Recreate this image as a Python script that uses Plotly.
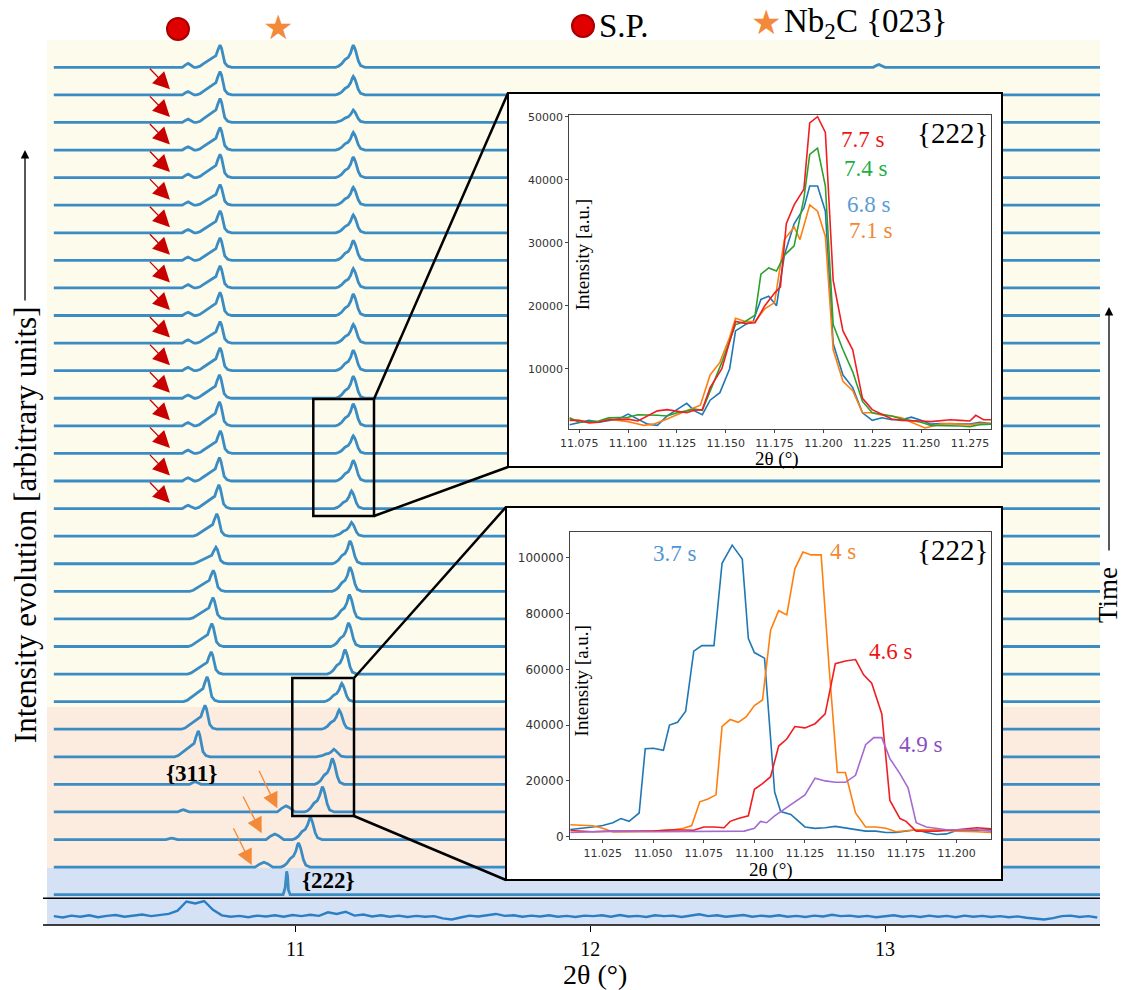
import plotly.graph_objects as go

# ------------------------------------------------------------------ data
# Main waterfall: rows k = 0 (top) ... 30 (bottom); heights in "row" units
P1_POS = [10.744, 10.744, 10.744, 10.744, 10.744, 10.744, 10.744, 10.744, 10.744, 10.744,
          10.744, 10.744, 10.742, 10.742, 10.745, 10.742, 10.740, 10.733, 10.730, 10.721,
          10.720, 10.716, 10.714, 10.700, 10.693, 10.670, 10.660, 10.660, 10.660, 10.660, 10.660]
P1_H = [0.81, 0.85, 0.87, 0.82, 0.85, 0.75, 0.80, 0.82, 0.80, 0.84,
        0.78, 0.83, 0.85, 0.87, 0.82, 0.85, 0.86, 0.81, 0.60, 0.76,
        0.77, 0.83, 0.81, 0.90, 0.87, 0.94, 0.0, 0.0, 0.0, 0.0, 0.0]
P2_POS = [11.196, 11.196, 11.196, 11.196, 11.196, 11.196, 11.196, 11.196, 11.196, 11.196,
          11.196, 11.196, 11.196, 11.196, 11.196, 11.196, 11.190, 11.190, 11.185, 11.185,
          11.183, 11.180, 11.168, 11.157, 11.148, 11.130, 11.125, 11.091, 11.050, 11.010, 10.970]
P2_H = [0.80, 0.67, 0.45, 0.64, 0.75, 0.65, 0.65, 0.72, 0.70, 0.78,
        0.68, 0.74, 0.80, 0.80, 0.64, 0.75, 0.64, 0.50, 0.83, 0.88,
        0.88, 0.86, 0.89, 0.66, 0.70, 0.27, 0.94, 0.92, 0.82, 0.88, 0.85]
NARROW_ROWS = [30]
SP_POS = [10.636, 10.636, 10.636, 10.636, 10.636, 10.636, 10.636, 10.636, 10.636, 10.636,
          10.636, 10.636, 10.636, 10.636, 10.636, 10.636, 10.636, 10.64, 10.64, 10.64,
          10.64, 10.64, 10.64, 10.64, 10.64, 10.64, 10.660, 10.620, 10.580, 10.60, 10.60]
SP_H = [0.14, 0.12, 0.12, 0.12, 0.13, 0.12, 0.12, 0.12, 0.12, 0.12,
        0.12, 0.12, 0.12, 0.12, 0.12, 0.12, 0.12, 0.0, 0.0, 0.0,
        0.0, 0.0, 0.0, 0.0, 0.0, 0.0, 0.10, 0.08, 0.05, 0.0, 0.0]
NB_ROWS = [27, 28, 29]
NB_POS = [10.968, 10.930, 10.893]
NB_H = [0.22, 0.20, 0.18]
EXTRA_ROWS = [0]
EXTRA_POS = [12.98]
EXTRA_H = [0.10]
ARROW_ROWS = [1, 2, 3, 4, 5, 6, 7, 8, 9, 10, 11, 12, 13, 14, 15, 16]

# peak profile templates (offset in degrees, relative height)
PK_DX = [-0.080, -0.068, -0.057, -0.045, -0.034, -0.023, -0.014, -0.008, -0.003, 0.0,
         0.005, 0.010, 0.016, 0.026, 0.040]
PK_REL = [0.0, 0.05, 0.15, 0.25, 0.36, 0.45, 0.52, 0.75, 0.95, 1.0,
          0.85, 0.5, 0.2, 0.05, 0.0]
PK2_DX = [-0.060, -0.050, -0.040, -0.028, -0.017, -0.009, -0.003, 0.0, 0.004, 0.008,
          0.017, 0.025, 0.040]
PK2_REL = [0.0, 0.05, 0.15, 0.35, 0.45, 0.65, 0.92, 1.0, 0.9, 0.75,
           0.3, 0.08, 0.0]
NARROW_DX = [-0.012, -0.005, -0.002, 0.0, 0.003, 0.006, 0.012]
NARROW_REL = [0.0, 0.3, 0.9, 1.0, 0.8, 0.2, 0.0]
BUMP_DX = [-0.02, -0.008, 0.0, 0.008, 0.02]
BUMP_REL = [0.0, 0.7, 1.0, 0.6, 0.0]
WIDE_DX = [-0.03, -0.015, 0.0, 0.012, 0.03]
WIDE_REL = [0.0, 0.6, 1.0, 0.7, 0.0]

# bottom reference pattern (sampled every 0.03 deg from 10.18)
REF_START, REF_STEP = 10.18, 0.03
REF_Y = [0.02, -0.03, 0.04, 0.00, 0.05, -0.02, 0.03, 0.06, 0.00, 0.04,
         0.08, 0.02, 0.07, 0.10, 0.22, 0.55, 0.48, 0.57, 0.25, 0.05,
         0.00, 0.03, -0.02, 0.04, 0.01, 0.05, 0.00, 0.06, 0.02, 0.07,
         0.03, 0.16, 0.10, 0.18, 0.04, 0.08, 0.01, 0.05, 0.00, 0.04,
         -0.01, 0.03, 0.00, 0.02, -0.06, -0.10, -0.03, 0.04, 0.01, 0.06,
         0.10, 0.03, 0.05, 0.00, 0.04, 0.01, 0.05, 0.00, 0.03, -0.01,
         0.04, 0.02, 0.05, 0.00, 0.06, 0.01, 0.03, -0.01, 0.05, 0.02,
         0.04, -0.01, 0.03, 0.09, 0.02, 0.05, 0.00, 0.03, 0.06, 0.00,
         0.04, 0.01, 0.05, 0.00, 0.03, -0.01, 0.04, 0.01, 0.07, 0.02,
         0.04, 0.00, 0.03, -0.02, 0.02, 0.05, 0.00, 0.03, -0.01, 0.04,
         0.00, 0.03, -0.02, 0.04, 0.00, 0.03, -0.01, 0.02, -0.02, 0.01,
         -0.04, -0.08, -0.10, -0.05, 0.02, 0.04, -0.01, 0.02, -0.03]

# inset 1 ({222}, late times)
I1_B_X = [11.070, 11.075, 11.080, 11.085, 11.090, 11.095, 11.100, 11.105, 11.110, 11.115,
          11.120, 11.125, 11.130, 11.134, 11.138, 11.142, 11.147, 11.152, 11.155, 11.160,
          11.164, 11.168, 11.172, 11.176, 11.180, 11.185, 11.190, 11.193, 11.197, 11.201,
          11.205, 11.210, 11.215, 11.220, 11.225, 11.230, 11.235, 11.240, 11.245, 11.250,
          11.255, 11.260, 11.265, 11.270, 11.275, 11.280, 11.286]
I1_B_Y = [1100, 1500, 1800, 1500, 1800, 2000, 2800, 2000, 1200, 1000,
          2500, 3500, 4500, 3300, 2700, 5000, 6200, 10000, 16000, 17000,
          17500, 21000, 21500, 20000, 28000, 33000, 35500, 39000, 39000, 35000,
          14000, 9000, 7000, 3000, 1800, 2200, 1900, 1900, 2300, 1800,
          1200, 1300, 1300, 1200, 1200, 1500, 1300]
I1_O_X = [11.070, 11.075, 11.080, 11.085, 11.090, 11.095, 11.100, 11.104, 11.108, 11.113,
          11.120, 11.125, 11.130, 11.137, 11.142, 11.147, 11.152, 11.155, 11.160, 11.165,
          11.170, 11.175, 11.180, 11.185, 11.188, 11.193, 11.197, 11.201, 11.205, 11.210,
          11.215, 11.220, 11.225, 11.230, 11.235, 11.240, 11.245, 11.252, 11.260, 11.265,
          11.270, 11.275, 11.280, 11.286]
I1_O_Y = [2000, 1800, 1500, 1600, 2000, 1800, 1600, 1300, 1000, 1200,
          2000, 2700, 3300, 4200, 9000, 11000, 15000, 18000, 17500, 17500,
          19500, 20500, 30500, 32500, 30500, 36000, 35000, 31000, 13000, 8000,
          6500, 3000, 3000, 2600, 2500, 2200, 1500, 600, 1200, 1300,
          1200, 1100, 1300, 1300]
I1_G_X = [11.070, 11.075, 11.080, 11.085, 11.090, 11.095, 11.100, 11.105, 11.110, 11.115,
          11.120, 11.125, 11.130, 11.134, 11.138, 11.142, 11.148, 11.155, 11.160, 11.165,
          11.168, 11.172, 11.176, 11.180, 11.185, 11.190, 11.193, 11.197, 11.201, 11.205,
          11.210, 11.215, 11.220, 11.225, 11.230, 11.235, 11.240, 11.245, 11.250, 11.255,
          11.260, 11.265, 11.270, 11.275, 11.280, 11.286]
I1_G_Y = [2200, 1500, 1600, 1700, 2200, 2200, 2300, 2700, 2700, 2600,
          2500, 3000, 3300, 3600, 3400, 6500, 11000, 17000, 17500, 18500,
          25000, 26000, 25500, 28000, 29500, 37000, 44000, 45000, 39000, 17000,
          13000, 9500, 4800, 3000, 2800, 2500, 2000, 1700, 1500, 1000,
          1000, 1000, 900, 800, 1100, 1200]
I1_R_X = [11.070, 11.075, 11.080, 11.085, 11.090, 11.095, 11.100, 11.105, 11.110, 11.115,
          11.120, 11.125, 11.130, 11.134, 11.138, 11.142, 11.148, 11.155, 11.160, 11.165,
          11.170, 11.175, 11.178, 11.181, 11.185, 11.190, 11.193, 11.197, 11.201, 11.205,
          11.210, 11.215, 11.220, 11.225, 11.230, 11.235, 11.240, 11.245, 11.250, 11.255,
          11.260, 11.265, 11.270, 11.275, 11.278, 11.282, 11.286]
I1_R_Y = [1800, 1800, 1400, 1500, 1900, 2000, 2000, 1700, 2500, 3300,
          3500, 3200, 3000, 3400, 3500, 7000, 10000, 17500, 17200, 17300,
          20000, 22000, 23000, 33000, 36000, 38500, 49000, 50000, 47500, 24000,
          16000, 13000, 5300, 3500, 2800, 2000, 1800, 1800, 1700, 1600,
          1800, 1900, 1800, 1700, 2600, 1900, 1900]
I1_LABELS = ["6.8 s", "7.1 s", "7.4 s", "7.7 s"]

# inset 2 ({222}, early times)
I2_B_X = [11.009, 11.015, 11.020, 11.025, 11.030, 11.034, 11.038, 11.043, 11.046, 11.050,
          11.055, 11.058, 11.062, 11.066, 11.070, 11.074, 11.080, 11.084, 11.089, 11.094,
          11.097, 11.100, 11.105, 11.110, 11.113, 11.118, 11.125, 11.130, 11.135, 11.140,
          11.145, 11.150, 11.155, 11.160, 11.165, 11.170, 11.175, 11.180, 11.185, 11.190,
          11.195, 11.200, 11.205, 11.210, 11.217]
I2_B_Y = [2600, 3000, 3500, 4000, 5000, 6500, 5500, 8500, 31500, 31700,
          31000, 40000, 41000, 45000, 66500, 68500, 68500, 98000, 104500, 99500,
          71000, 66000, 64000, 16000, 9000, 8000, 3500, 3000, 3200, 3700,
          3200, 2500, 2000, 2000, 1500, 1500, 2000, 2500, 1500, 800,
          1000, 2200, 2200, 2200, 2500]
I2_O_X = [11.009, 11.020, 11.025, 11.030, 11.040, 11.050, 11.060, 11.065, 11.069, 11.073,
          11.077, 11.081, 11.084, 11.088, 11.092, 11.096, 11.100, 11.104, 11.108, 11.112,
          11.116, 11.120, 11.124, 11.128, 11.133, 11.137, 11.141, 11.145, 11.150, 11.155,
          11.160, 11.165, 11.170, 11.175, 11.180, 11.190, 11.200, 11.210, 11.217]
I2_O_Y = [4300, 3900, 3000, 1700, 1800, 2000, 2500, 3000, 4000, 12500,
          13500, 15000, 39500, 42000, 41000, 43000, 47000, 49000, 74000, 81000,
          79500, 96000, 102000, 101000, 101000, 60000, 23000, 23000, 8500, 3500,
          3500, 3000, 1800, 2200, 2500, 2500, 2000, 1800, 1500]
I2_R_X = [11.009, 11.020, 11.030, 11.050, 11.060, 11.070, 11.075, 11.080, 11.085, 11.088,
          11.092, 11.097, 11.100, 11.104, 11.108, 11.112, 11.116, 11.120, 11.125, 11.130,
          11.135, 11.140, 11.145, 11.150, 11.154, 11.158, 11.163, 11.167, 11.172, 11.175,
          11.180, 11.190, 11.200, 11.210, 11.217]
I2_R_Y = [2200, 1800, 2000, 2000, 2500, 2300, 3500, 3500, 3200, 5500,
          6500, 7500, 17000, 19000, 21500, 32500, 35000, 39500, 39000, 40500,
          44000, 62000, 63000, 63500, 58000, 55000, 44000, 13000, 6500, 5500,
          2000, 2000, 2500, 3200, 2800]
I2_P_X = [11.009, 11.030, 11.050, 11.070, 11.090, 11.095, 11.100, 11.103, 11.106, 11.110,
          11.115, 11.120, 11.125, 11.130, 11.135, 11.140, 11.145, 11.150, 11.155, 11.159,
          11.163, 11.167, 11.172, 11.176, 11.180, 11.185, 11.190, 11.195, 11.200, 11.210,
          11.217]
I2_P_Y = [1500, 2000, 1800, 1800, 1800, 2000, 3000, 5500, 5000, 7500,
          10000, 12500, 15000, 21000, 20000, 19500, 19500, 22000, 33000, 35500,
          35500, 28000, 22500, 17500, 5000, 3500, 3000, 2500, 2500, 2500,
          2000]
I2_LABELS = ["3.7 s", "4 s", "4.6 s", "4.9 s"]

MAIN_TICKS = [11, 12, 13]
I1_XTICKS = [11.075, 11.100, 11.125, 11.150, 11.175, 11.200, 11.225, 11.250, 11.275]
I1_YTICKS = [10000, 20000, 30000, 40000, 50000]
I2_XTICKS = [11.025, 11.050, 11.075, 11.100, 11.125, 11.150, 11.175, 11.200]
I2_YTICKS = [0, 20000, 40000, 60000, 80000, 100000]

# ------------------------------------------------------------------ layout helpers
W, H = 1126, 990
L, R, T, B = 45, 1100, 40, 925
ROW_PX = 27.58
TOP_BASE_PX = 67.3
NROWS = len(P1_H)


def pxx(x):
    return (x - L) / (R - L)


def pxy(y):
    return (B - y) / (B - T)


def off(k):
    return (NROWS - 1) - k


def row_of_px(y):
    return (TOP_BASE_PX + (NROWS - 1) * ROW_PX - y) / ROW_PX


def deg_of_px(x):
    return 11 + (x - 295.5) / 294.75


SERIF = "Liberation Serif"
SANS = "DejaVu Sans"
LINE = "#3a8cc3"

fig = go.Figure()

# ------------------------------------------------------------------ main waterfall
X_START, X_END = 10.18, 13.76
for k in range(NROWS):
    feats = []
    if SP_H[k] > 0:
        feats.append((SP_POS[k], SP_H[k], BUMP_DX, BUMP_REL))
    if P1_H[k] > 0:
        feats.append((P1_POS[k], P1_H[k], PK_DX, PK_REL))
    if k in NB_ROWS:
        i = NB_ROWS.index(k)
        feats.append((NB_POS[i], NB_H[i], WIDE_DX, WIDE_REL))
    if P2_H[k] > 0:
        if k in NARROW_ROWS:
            feats.append((P2_POS[k], P2_H[k], NARROW_DX, NARROW_REL))
        else:
            feats.append((P2_POS[k], P2_H[k], PK2_DX, PK2_REL))
    if k in EXTRA_ROWS:
        i = EXTRA_ROWS.index(k)
        feats.append((EXTRA_POS[i], EXTRA_H[i], BUMP_DX, BUMP_REL))
    feats.sort(key=lambda f: f[0])
    xs, ys = [X_START], [0.0]
    for pos, h, dxs, rels in feats:
        for d, r in zip(dxs, rels):
            xs.append(pos + d)
            ys.append(h * r)
    xs.append(X_END)
    ys.append(0.0)
    fig.add_trace(go.Scatter(x=xs, y=[v + off(k) for v in ys], mode="lines",
                             line=dict(color=LINE, width=2.8), hoverinfo="skip",
                             showlegend=False, xaxis="x", yaxis="y"))

# bottom reference pattern
ref_off = row_of_px(916.7)
ref_x = [REF_START + REF_STEP * i for i in range(len(REF_Y))]
fig.add_trace(go.Scatter(x=ref_x, y=[v + ref_off for v in REF_Y], mode="lines",
                         line=dict(color="#2a7fc4", width=2.4), showlegend=False,
                         hoverinfo="skip", xaxis="x", yaxis="y"))

# ------------------------------------------------------------------ inset white panels + data
def white_panel(xa, ya):
    fig.add_trace(go.Scatter(x=[0, 1, 1, 0, 0], y=[0, 0, 1, 1, 0], mode="lines",
                             fill="toself", fillcolor="white", line=dict(width=0),
                             showlegend=False, hoverinfo="skip", xaxis=xa, yaxis=ya))


white_panel("x2", "y2")
for xs, ys, c in [(I1_B_X, I1_B_Y, "#1f77b4"), (I1_O_X, I1_O_Y, "#ff7f0e"),
                  (I1_G_X, I1_G_Y, "#2ca02c"), (I1_R_X, I1_R_Y, "#f01e23")]:
    fig.add_trace(go.Scatter(x=xs, y=ys, mode="lines", line=dict(color=c, width=1.6),
                             showlegend=False, xaxis="x3", yaxis="y3"))
white_panel("x4", "y4")
for xs, ys, c in [(I2_B_X, I2_B_Y, "#1f77b4"), (I2_O_X, I2_O_Y, "#ff7f0e"),
                  (I2_R_X, I2_R_Y, "#f01e23"), (I2_P_X, I2_P_Y, "#a46ad2")]:
    fig.add_trace(go.Scatter(x=xs, y=ys, mode="lines", line=dict(color=c, width=1.6),
                             showlegend=False, xaxis="x5", yaxis="y5"))

# ------------------------------------------------------------------ axes
hidden = dict(visible=False, range=[0, 1], fixedrange=True)
inset_ax = dict(showline=True, mirror=True, linecolor="#444", linewidth=1,
                ticks="outside", ticklen=3, tickwidth=1, tickcolor="#444",
                showgrid=False, zeroline=False,
                tickfont=dict(family=SANS, size=11, color="#333"))

fig.update_layout(
    width=W, height=H, autosize=False,
    margin=dict(l=L, r=W - R, t=T, b=H - B, pad=0),
    paper_bgcolor="white", plot_bgcolor="rgba(0,0,0,0)",
    xaxis=dict(domain=[0, 1], range=[deg_of_px(L), deg_of_px(R)], tickvals=MAIN_TICKS,
               ticktext=[str(t) for t in MAIN_TICKS], ticks="outside", ticklen=6,
               tickwidth=1, tickcolor="black", showline=False, showgrid=False,
               zeroline=False, tickfont=dict(family=SERIF, size=20, color="black")),
    yaxis=dict(domain=[0, 1], range=[row_of_px(B), row_of_px(T)], visible=False),
    xaxis2=dict(domain=[pxx(508), pxx(1002)], anchor="y2", **hidden),
    yaxis2=dict(domain=[pxy(467), pxy(93)], anchor="x2", **hidden),
    xaxis3=dict(domain=[pxx(569.3), pxx(991)], anchor="y3", range=[11.0699, 11.2858],
                tickvals=I1_XTICKS, tickformat=".3f", **inset_ax),
    yaxis3=dict(domain=[pxy(429.3), pxy(115)], anchor="x3", range=[380, 50270],
                tickvals=I1_YTICKS, tickformat="d", **inset_ax),
    xaxis4=dict(domain=[pxx(506), pxx(1002)], anchor="y4", **hidden),
    yaxis4=dict(domain=[pxy(880), pxy(507)], anchor="x4", **hidden),
    xaxis5=dict(domain=[pxx(570), pxx(991)], anchor="y5", range=[11.0088, 11.217],
                tickvals=I2_XTICKS, tickformat=".3f", **inset_ax),
    yaxis5=dict(domain=[pxy(839.3), pxy(532.3)], anchor="x5", range=[-930, 109100],
                tickvals=I2_YTICKS, tickformat="d", **inset_ax),
)
fig.layout.yaxis5.tickfont.size = 12

# ------------------------------------------------------------------ shapes
shapes = []


def rect(x0, y0, x1, y1, fill=None, line=None, layer="above"):
    d = dict(type="rect", xref="paper", yref="paper", x0=pxx(x0), x1=pxx(x1),
             y0=pxy(y1), y1=pxy(y0), layer=layer)
    d["fillcolor"] = fill if fill else "rgba(0,0,0,0)"
    d["line"] = line if line else dict(width=0)
    shapes.append(d)


def seg(x0, y0, x1, y1, color="black", width=2.5):
    shapes.append(dict(type="line", xref="paper", yref="paper", x0=pxx(x0), y0=pxy(y0),
                       x1=pxx(x1), y1=pxy(y1), line=dict(color=color, width=width),
                       layer="above"))


def dot(cx, cy, r):
    shapes.append(dict(type="circle", xref="paper", yref="paper",
                       x0=pxx(cx - r), x1=pxx(cx + r), y0=pxy(cy + r), y1=pxy(cy - r),
                       fillcolor="#e00000", line=dict(color="#a80000", width=2),
                       layer="above"))


rect(47, 40, 1100, 707, fill="#fdfcec", layer="below")
rect(47, 707, 1100, 868, fill="#fcebdf", layer="below")
rect(47, 868, 1100, 925, fill="#d5e1f4", layer="below")
seg(43, 898.3, 1100, 898.3, width=1.5)
seg(43, 925, 1100, 925, width=1.5)

# zoom boxes and connectors
rect(313.3, 399, 374, 516, line=dict(color="black", width=2.5))
seg(374, 399, 508, 93)
seg(374, 516, 508, 467)
rect(292.3, 678, 354, 816, line=dict(color="black", width=2.5))
seg(354, 678, 506, 507)
seg(354, 816, 506, 880)
# inset frames
rect(508, 93, 1002, 467, line=dict(color="black", width=2))
rect(506, 507, 1002, 880, line=dict(color="black", width=2))

# S.P. markers (top row + legend)
dot(178, 29, 11)
dot(583, 26, 11)

fig.update_layout(shapes=shapes)

# ------------------------------------------------------------------ annotations
ann = []


def txt(x, y, s, size, color="black", angle=0, xanchor="center", family=SERIF):
    ann.append(dict(x=pxx(x), y=pxy(y), xref="paper", yref="paper", text=s,
                    showarrow=False, textangle=angle, xanchor=xanchor, yanchor="middle",
                    borderpad=0, font=dict(family=family, size=size, color=color)))


def parrow(x, y_tip, y_tail, size=1.3):
    ann.append(dict(x=pxx(x), y=pxy(y_tip), xref="paper", yref="paper", text="",
                    showarrow=True, ax=0, ay=y_tail - y_tip, axref="pixel", ayref="pixel",
                    arrowhead=2, arrowsize=size, arrowwidth=1.3, arrowcolor="black",
                    standoff=0))


# Nb2C star markers
txt(278, 27, "★", 34, color="#f28a3a", family="DejaVu Sans")
txt(766, 22, "★", 34, color="#f28a3a", family="DejaVu Sans")

# main axis title, side titles
txt(595, 974, "2θ (°)", 28)
txt(25, 525, "Intensity evolution [arbitrary units]", 31, angle=-90)
parrow(25, 150, 302)
txt(1108, 595, "Time", 27, angle=-90)
parrow(1109, 307, 552)

# top legend text
txt(598, 26, "S.P.", 33, xanchor="left")
txt(783, 24, "Nb<sub>2</sub>C {023}", 33, xanchor="left")

# reflection labels
txt(191.7, 773.3, "<b>{311}</b>", 23)
txt(328.3, 880, "<b>{222}</b>", 23)

# red arrows (S.P. peak appearance)
for k in ARROW_ROWS:
    ann.append(dict(x=10.574, y=off(k) + 0.2, ax=10.501, ay=off(k) + 1.0,
                    xref="x", yref="y", axref="x", ayref="y", text="", showarrow=True,
                    arrowhead=2, arrowsize=2.6, arrowwidth=1.3, arrowcolor="#c80000",
                    standoff=0))
# orange arrows (Nb2C peak)
for (tx, ty, hx, hy) in [(258.3, 769.3, 277.3, 808.3), (242.3, 795, 261.7, 833.3),
                         (232.7, 826.7, 251.7, 865)]:
    ann.append(dict(x=deg_of_px(hx), y=row_of_px(hy), ax=deg_of_px(tx), ay=row_of_px(ty),
                    xref="x", yref="y", axref="x", ayref="y", text="", showarrow=True,
                    arrowhead=2, arrowsize=2.4, arrowwidth=1.3, arrowcolor="#f28a3a",
                    standoff=0))

# inset 1 texts
txt(583.3, 255, "Intensity [a.u.]", 19, angle=-90)
txt(776.7, 459, "2θ (°)", 19)
txt(952.8, 133.3, "{222}", 29)
txt(862.5, 140, I1_LABELS[3], 23, color="#ee1515")
txt(865.8, 168.3, I1_LABELS[2], 23, color="#1fae44")
txt(868.7, 204, I1_LABELS[0], 23, color="#5b9bd5")
txt(870.8, 230.7, I1_LABELS[1], 23, color="#f0883a")
# inset 2 texts
txt(581.7, 680.7, "Intensity [a.u.]", 19, angle=-90)
txt(770.7, 870, "2θ (°)", 19)
txt(952.8, 550, "{222}", 29)
txt(675, 553.3, I2_LABELS[0], 23, color="#4f95d6")
txt(843.3, 551.7, I2_LABELS[1], 23, color="#f28a30")
txt(890.8, 651.7, I2_LABELS[2], 23, color="#ee1515")
txt(920.8, 744, I2_LABELS[3], 23, color="#8a4fbf")

fig.update_layout(annotations=ann)

fig.write_html("out.html", config={"displayModeBar": False},
               post_script="document.body.style.margin='0px';document.body.style.padding='0px';")
